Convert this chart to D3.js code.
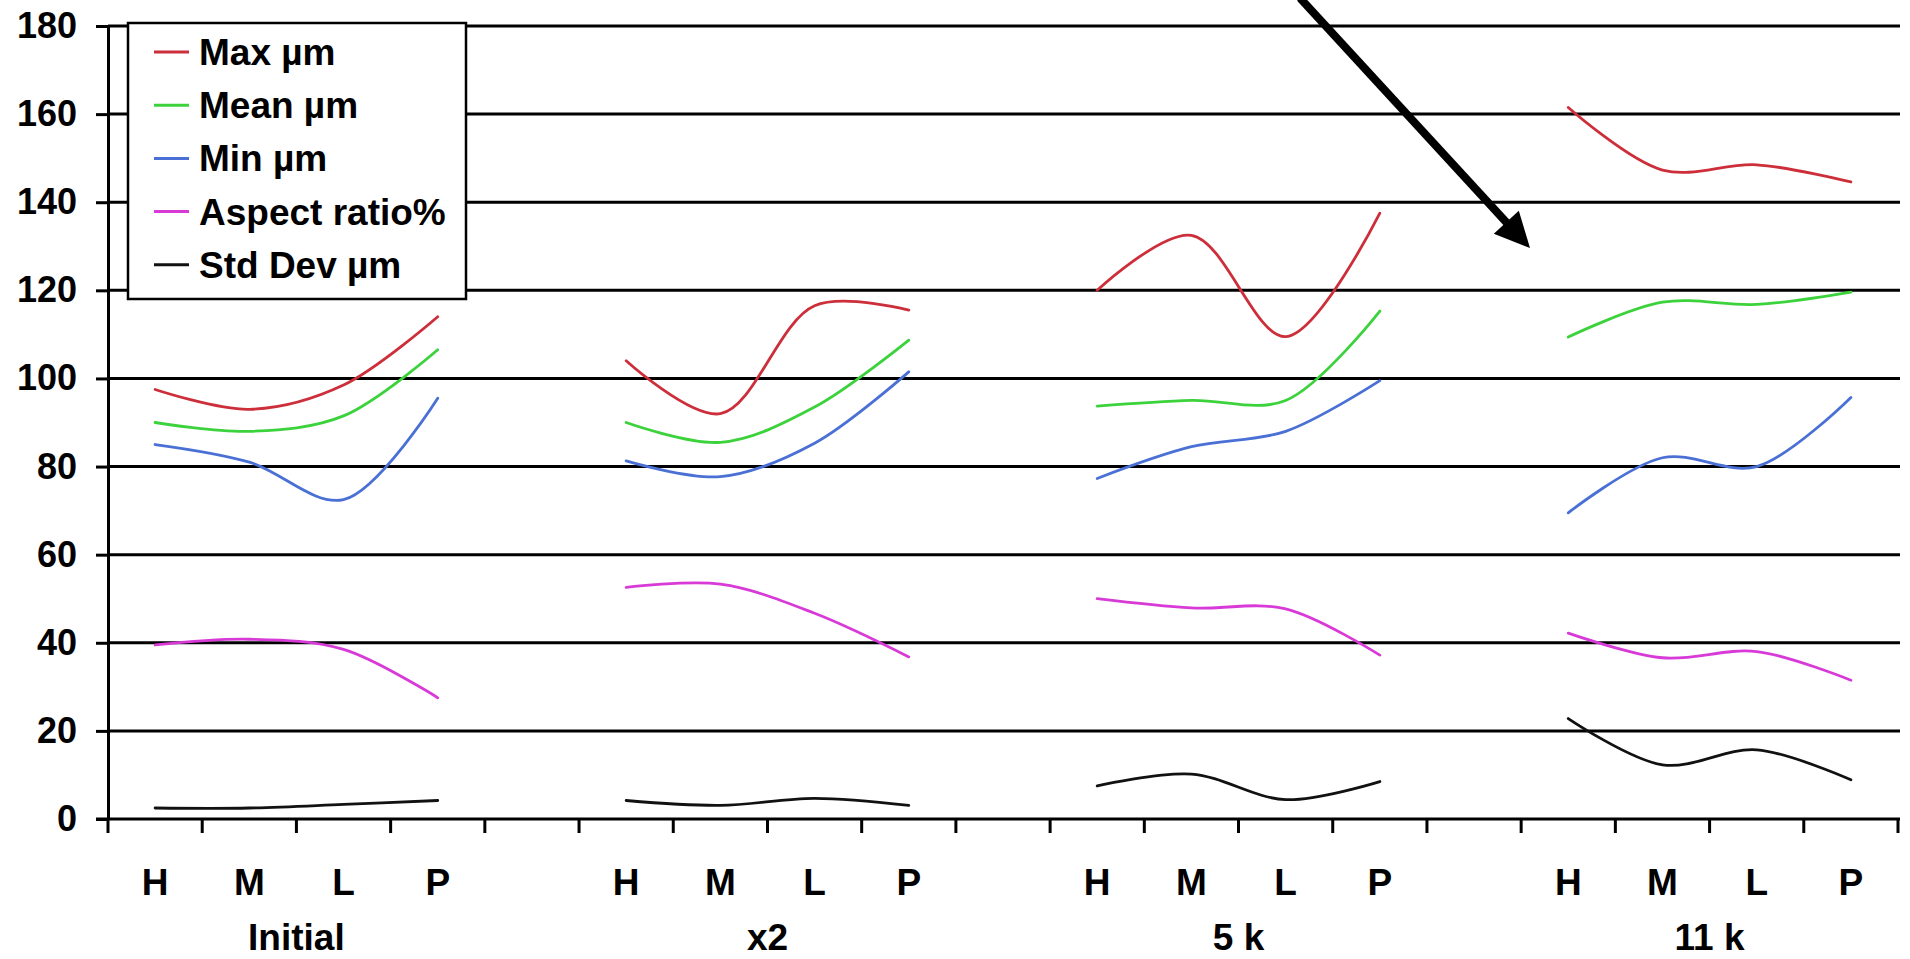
<!DOCTYPE html>
<html>
<head>
<meta charset="utf-8">
<script src="https://cdn.jsdelivr.net/npm/d3@7"></script>
<style>
  body { margin: 0; background: #fff; }
  svg { display: block; font-family: 'Liberation Sans', Arial, sans-serif; font-weight: bold; }
</style>
</head>
<body>
<div id="chart"></div>
<script>
// Data
let groups = ['Initial', 'x2', '5 k', '11 k']
let levels = ['H', 'M', 'L', 'P']
let yTicks = [0, 20, 40, 60, 80, 100, 120, 140, 160, 180]

// values in order: Initial H M L P, x2 H M L P, 5 k H M L P, 11 k H M L P
let maxUm = [97.5, 93, 98.5, 114, 104, 92, 116.5, 115.5, 120, 132.5, 109.5, 137.5, 161.5, 147.3, 148.5, 144.6]
let meanUm = [90, 88, 91.5, 106.5, 90, 85.5, 93.5, 108.7, 93.7, 95, 95, 115.3, 109.4, 117.3, 116.8, 119.6]
let minUm = [85, 81, 72.5, 95.5, 81.3, 77.7, 85.3, 101.5, 77.3, 84.5, 88, 99.5, 69.5, 82, 80, 95.7]
let aspectRatio = [39.5, 40.8, 38.5, 27.5, 52.6, 53.3, 46.7, 36.8, 50, 47.9, 47.7, 37.2, 42.2, 36.6, 38, 31.5]
let stdDevUm = [2.5, 2.5, 3.3, 4.2, 4.2, 3.1, 4.7, 3.1, 7.5, 10.2, 4.4, 8.5, 22.8, 12.3, 15.7, 8.9]

let seriesNames = ['Max µm', 'Mean µm', 'Min µm', 'Aspect ratio%', 'Std Dev µm']
let seriesValues = [maxUm, meanUm, minUm, aspectRatio, stdDevUm]
let seriesColors = ['#cc2e3a', '#3cd23c', '#4a70d6', '#d83ad8', '#111111']

// Basic variables
let chart = {
  width: 1910,
  height: 959,
  left: 108,
  right: 1898,
  top: 26,
  bottom: 819,
}

// 4 categories per group and one empty slot between groups
let categories = []
groups.forEach((g, gi) => {
  levels.forEach((l) => categories.push(g + '|' + l))
  if (gi < groups.length - 1) categories.push('gap' + gi)
})

let x = d3.scaleBand().domain(categories).range([chart.left, chart.right])
let y = d3.scaleLinear().domain([0, 180]).range([chart.bottom, chart.top])
let mid = (c) => x(c) + x.bandwidth() / 2

let svg = d3.select('#chart')
  .append('svg')
    .attr('width', chart.width)
    .attr('height', chart.height)

// Horizontal gridlines
svg.append('g')
  .selectAll('line')
  .data(yTicks.filter((d) => d > 0))
  .enter()
  .append('line')
    .attr('x1', chart.left)
    .attr('x2', chart.right + 2)
    .attr('y1', (d) => y(d))
    .attr('y2', (d) => y(d))
    .attr('stroke', '#000')
    .attr('stroke-width', 3)

// Y axis
let yAxis = svg.append('g')
  .attr('transform', `translate(${chart.left},0)`)
  .call(d3.axisLeft(y).tickValues(yTicks).tickSize(12).tickSizeOuter(0).tickPadding(19))

yAxis.select('.domain').attr('stroke', '#000').attr('stroke-width', 3)
yAxis.selectAll('.tick line').attr('stroke', '#000').attr('stroke-width', 3)
yAxis.selectAll('.tick text')
  .attr('fill', '#000')
  .style('font-size', '36px')
  .style('font-weight', 'bold')
  .style('font-family', "'Liberation Sans', Arial, sans-serif")

// X axis: baseline and ticks on band edges
svg.append('line')
  .attr('x1', chart.left - 12)
  .attr('x2', chart.right + 2)
  .attr('y1', y(0))
  .attr('y2', y(0))
  .attr('stroke', '#000')
  .attr('stroke-width', 3)

svg.append('g')
  .selectAll('line')
  .data(d3.range(categories.length + 1))
  .enter()
  .append('line')
    .attr('x1', (i) => chart.left + i * x.step())
    .attr('x2', (i) => chart.left + i * x.step())
    .attr('y1', y(0))
    .attr('y2', y(0) + 14)
    .attr('stroke', '#000')
    .attr('stroke-width', 3)

// Category labels
svg.append('g')
  .selectAll('text')
  .data(categories.filter((c) => c.indexOf('|') > -1))
  .enter()
  .append('text')
    .attr('x', (c) => mid(c))
    .attr('y', 895)
    .attr('text-anchor', 'middle')
    .style('font-size', '37px')
    .text((c) => c.split('|')[1])

// Group labels
svg.append('g')
  .selectAll('text')
  .data(groups)
  .enter()
  .append('text')
    .attr('x', (g) => (x(g + '|H') + x(g + '|P') + x.bandwidth()) / 2)
    .attr('y', 950)
    .attr('text-anchor', 'middle')
    .style('font-size', '37px')
    .text((g) => g)

// Smoothed lines, one piece per group
let line = d3.line()
  .x((d) => mid(d.cat))
  .y((d) => y(d.value))
  .curve(d3.curveCatmullRom.alpha(0.5))

let pieces = []
seriesValues.forEach((values, si) => {
  groups.forEach((g, gi) => {
    pieces.push({
      color: seriesColors[si],
      points: levels.map((l, li) => ({ cat: g + '|' + l, value: values[gi * 4 + li] })),
    })
  })
})

svg.append('g')
  .selectAll('path')
  .data(pieces)
  .enter()
  .append('path')
    .attr('d', (d) => line(d.points))
    .attr('fill', 'none')
    .attr('stroke', (d) => d.color)
    .attr('stroke-width', 2.8)
    .attr('stroke-linecap', 'round')

// Legend
let legend = svg.append('g')

legend.append('rect')
  .attr('x', 128)
  .attr('y', 23)
  .attr('width', 338)
  .attr('height', 276)
  .attr('fill', '#fff')
  .attr('stroke', '#000')
  .attr('stroke-width', 2.5)

let legendRows = legend.selectAll('g.row')
  .data(seriesNames)
  .enter()
  .append('g')
    .attr('class', 'row')
    .attr('transform', (d, i) => `translate(0,${52 + i * 53.2})`)

legendRows.append('line')
  .attr('x1', 154)
  .attr('x2', 189)
  .attr('stroke', (d, i) => seriesColors[i])
  .attr('stroke-width', 3)

legendRows.append('text')
  .attr('x', 199)
  .attr('y', 13)
  .style('font-size', '37px')
  .text((d) => d)

// Annotation arrow
let arrow = { x1: 1300, y1: -2, x2: 1530, y2: 248, head: 35, half: 17 }
let len = Math.hypot(arrow.x2 - arrow.x1, arrow.y2 - arrow.y1)
let ux = (arrow.x2 - arrow.x1) / len
let uy = (arrow.y2 - arrow.y1) / len
let bx = arrow.x2 - ux * arrow.head
let by = arrow.y2 - uy * arrow.head

svg.append('line')
  .attr('x1', arrow.x1)
  .attr('y1', arrow.y1)
  .attr('x2', bx + ux * 2)
  .attr('y2', by + uy * 2)
  .attr('stroke', '#000')
  .attr('stroke-width', 8)

svg.append('path')
  .attr('d', `M ${arrow.x2},${arrow.y2} L ${bx - uy * arrow.half},${by + ux * arrow.half} L ${bx + uy * arrow.half},${by - ux * arrow.half} Z`)
  .attr('fill', '#000')
</script>
</body>
</html>
